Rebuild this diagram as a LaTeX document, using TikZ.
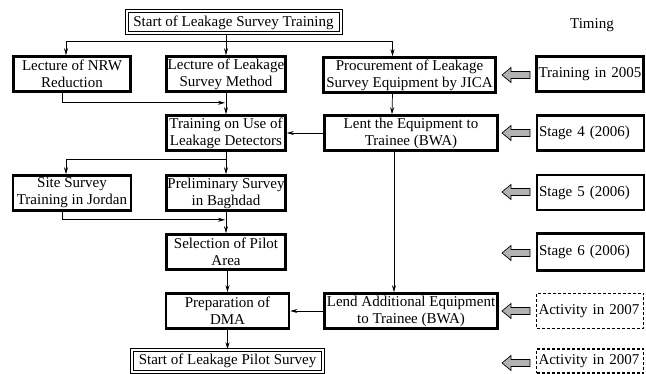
\documentclass[tikz,border=0pt]{standalone}
\usepackage{fontspec}
\setmainfont{Liberation Serif}
\usetikzlibrary{calc,arrows.meta}
\begin{document}
\begin{tikzpicture}[x=1pt,y=-1pt,
  font=\fontsize{15}{17}\selectfont,
  base/.style={align=center,inner sep=0pt,minimum height=35pt},
  thickbox/.style={base,draw,line width=2.6pt},
  timebox/.style={base,draw,line width=2.2pt,text width=103pt,inner xsep=2pt,align=left},
  dashbox/.style={base,draw,line width=1.8pt,dash pattern=on 3pt off 2pt,text width=103pt,inner xsep=2pt,align=left},
  dblbox/.style={base,draw,double,double distance=2pt,line width=1pt,minimum height=22pt},
  dblbox2/.style={base,draw,double,double distance=1.6pt,line width=1.5pt,minimum height=22pt},
  conn/.style={line width=0.7pt},
  arr/.style={conn,-{Stealth[length=7pt,width=4pt]}},
  grayarr/.style={draw,fill=black!30,line width=0.7pt}
]
\useasboundingbox (0,0) rectangle (646,374);

% main column
\node[dblbox,minimum width=214pt] (top) at (233.5,22.5) {Start of Leakage Survey Training};
\node[thickbox,minimum width=117pt] (A) at (72,74) {Lecture of NRW\\Reduction};
\node[thickbox,minimum width=119pt] (B) at (226,74) {Lecture of Leakage\\Survey Method};
\node[thickbox,minimum width=172pt] (C) at (409.5,75) {Procurement of Leakage\\Survey Equipment by JICA};
\node[thickbox,minimum width=119pt] (D) at (226,133) {Training on Use of\\Leakage Detectors};
\node[thickbox,minimum width=173pt] (E) at (411,133) {Lent the Equipment to\\Trainee (BWA)};
\node[thickbox,minimum width=118pt] (F) at (72,193) {Site Survey\\Training in Jordan};
\node[thickbox,minimum width=119pt] (G) at (226,193) {Preliminary Survey\\in Baghdad};
\node[thickbox,minimum width=119pt] (H) at (226,252) {Selection of Pilot\\Area};
\node[thickbox,minimum width=123pt] (I) at (227.5,311) {Preparation of\\DMA};
\node[thickbox,minimum width=173pt] (J) at (411,311) {Lend Additional Equipment\\to Trainee (BWA)};
\node[dblbox2,minimum width=191pt] (K) at (227.5,361) {Start of Leakage Pilot Survey};

% timing column
\node (timing) at (592,25) {Timing};
\node[timebox] (T1) at (590,74) {Training in 2005};
\node[timebox] (T2) at (590.5,133) {Stage 4 (2006)};
\node[timebox] (T3) at (590.5,192.5) {Stage 5 (2006)};
\node[timebox,minimum height=37pt] (T4) at (590.5,252) {Stage 6 (2006)};
\node[dashbox] (T5) at (590,311) {Activity in 2007};
\node[dashbox,minimum height=24pt] (T6) at (590,361) {Activity in 2007};

% connectors
\coordinate (j1) at ($(top.south -| B.north)+(0,7)$);
\draw[conn] (top.south -| B.north) -- (j1);
\draw[arr] (j1) -| ($(A.north)+(-6,0)$);
\draw[arr] (j1) -- (B.north);
\draw[arr] (j1) -| ($(C.north)+(-17,0)$);

\coordinate (j2) at ($(B.south)+(0,10)$);
\draw[arr] ($(A.south)+(-10,0)$) |- ($(j2)+(-1,0)$);
\draw[arr] (B.south) -- (D.north);
\draw[arr] ($(C.south)+(-17,0)$) -- ($(E.north)+(-19,0)$);
\draw[arr] (E.west) -- (D.east);

\coordinate (j3) at ($(D.south)+(0,8)$);
\draw[conn] (D.south) -- (j3);
\draw[arr] (j3) -| ($(F.north)+(-6,0)$);
\draw[arr] (j3) -- (G.north);

\coordinate (j4) at ($(G.south)+(0,8)$);
\draw[arr] ($(F.south)+(-10,0)$) |- ($(j4)+(-1,0)$);
\draw[arr] (G.south) -- (H.north);
\draw[arr] ($(E.south)+(-17,0)$) -- ($(J.north)+(-17,0)$);
\draw[arr] (H.south -| I.north) -- (I.north);
\draw[arr] (J.west) -- (I.east);
\draw[arr] (I.south) -- (K.north);

% gray block arrows
\foreach \y in {75,133,192,253,311,363}{
  \draw[grayarr] (530,\y-3.5) -- (511,\y-3.5) -- (511,\y-7.5) -- (502,\y) -- (511,\y+7.5) -- (511,\y+3.5) -- (530,\y+3.5) -- cycle;
}
\end{tikzpicture}
\end{document}
